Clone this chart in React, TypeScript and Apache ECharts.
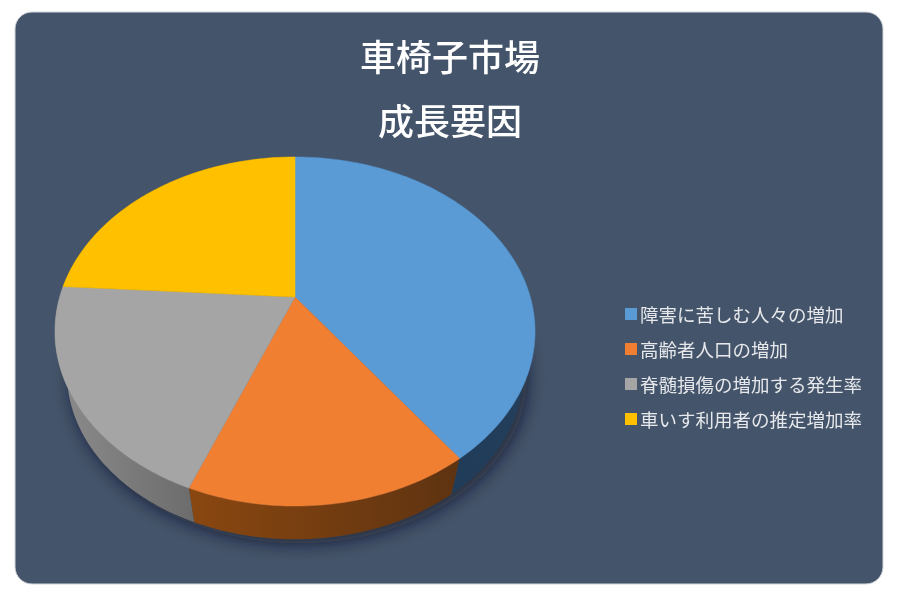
import React, { useEffect, useRef } from "react";
import * as echarts from "echarts";

const categories = ["障害に苦しむ人々の増加", "高齢者人口の増加", "脊髄損傷の増加する発生率", "車いす利用者の推定増加率"];
const shares = [40, 16, 20, 24];
const topColors = ["#5B9BD5", "#F07F31", "#A5A5A5", "#FFC000"];
const sideStops = [
  ["#1B3653", "#243F5C"],
  ["#8A4710", "#5E3311"],
  ["#8C8C8C", "#6C6C6C"],
  ["#8A6A00", "#8A6A00"],
];
const titleLines = ["車椅子市場", "成長要因"];

// Projection of the tilted disc onto the page
const APEX_X = 295;
const APEX_Y = 297;
const SCALE_X = 235.3;
const SCALE_Y = 167.7;
const TILT = 0.1977;
const RING_SCALE = 0.95;
const DISC_CY = 331;
const RING_CY = 373;

function rim(angleDeg: number): number[] {
  const a = (angleDeg * Math.PI) / 180;
  const u = Math.sin(a);
  const v = Math.cos(a);
  const w = 1 + TILT * v;
  return [APEX_X + (SCALE_X * u) / w, APEX_Y - (SCALE_Y * v) / w];
}
function lowerRim(p: number[]): number[] {
  return [APEX_X + (p[0] - APEX_X) * RING_SCALE, RING_CY + (p[1] - DISC_CY) * RING_SCALE];
}
function arc(from: number, to: number): number[][] {
  const pts: number[][] = [];
  const n = Math.max(2, Math.ceil(to - from));
  for (let i = 0; i <= n; i++) pts.push(rim(from + ((to - from) * i) / n));
  return pts;
}

const total = shares.reduce((a, b) => a + b, 0);

function sliceSeries(index: number) {
  const before = shares.slice(0, index).reduce((a, b) => a + b, 0);
  return {
    type: "custom",
    name: categories[index],
    coordinateSystem: "none",
    silent: true,
    itemStyle: { color: topColors[index] },
    data: [[shares[index]]],
    renderItem: (_params: any, api: any) => {
      const from = (before / total) * 360;
      const to = from + (api.value(0) / total) * 360;
      const edge = arc(from, to);
      const lower = edge.map(lowerRim).reverse();
      return {
        type: "group",
        children: [
          {
            type: "polygon",
            z2: 1,
            shape: { points: [...edge, ...lower] },
            style: {
              fill: new echarts.graphic.LinearGradient(0, 0, 1, 0, [
                { offset: 0, color: sideStops[index][0] },
                { offset: 1, color: sideStops[index][1] },
              ]),
            },
          },
          {
            type: "polygon",
            z2: 2,
            shape: { points: [[APEX_X, APEX_Y], ...edge] },
            style: { fill: topColors[index], stroke: topColors[index], lineWidth: 0.5 },
          },
        ],
      };
    },
  };
}

const shadowSeries = {
  type: "custom",
  name: "shadow",
  coordinateSystem: "none",
  silent: true,
  data: [[total]],
  renderItem: () => ({
    type: "polygon",
    z2: 0,
    shape: { points: arc(0, 360).map(lowerRim) },
    style: {
      fill: "#2E3C50",
      shadowBlur: 18,
      shadowColor: "rgba(10,18,32,0.7)",
      shadowOffsetX: 4,
      shadowOffsetY: 4,
    },
  }),
};

export default function App() {
  const ref = useRef<HTMLDivElement>(null);
  useEffect(() => {
    const chart = echarts.init(ref.current!, undefined, { renderer: "svg" });
    chart.setOption({
      animation: false,
      textStyle: { fontFamily: "'Noto Sans CJK JP'" },
      graphic: [
        {
          type: "rect",
          z: -1,
          silent: true,
          shape: { x: 15, y: 12, width: 868, height: 572, r: 17 },
          style: { fill: "#44546A", stroke: "#D4D6DB", lineWidth: 1 },
        },
      ],
      title: {
        text: titleLines.join("\n"),
        left: 445,
        textAlign: "center",
        top: 18,
        textStyle: {
          color: "#FFFFFF",
          fontSize: 36,
          fontWeight: 500,
          lineHeight: 64,
          fontFamily: "'Noto Sans CJK JP'",
        },
      },
      legend: {
        data: categories.map((name) => ({ name, icon: "rect" })),
        orient: "vertical",
        left: 620,
        top: 298,
        itemWidth: 12,
        itemHeight: 12,
        itemGap: 13,
        selectedMode: false,
        textStyle: {
          color: "#E6E8EB",
          fontSize: 18.5,
          lineHeight: 22,
          padding: [0, 0, 0, -2],
          fontFamily: "'Noto Sans CJK JP'",
        },
      },
      series: [shadowSeries, ...shares.map((_, i) => sliceSeries(i))],
    });
    return () => chart.dispose();
  }, []);
  return <div ref={ref} style={{ position: "fixed", left: 0, top: 0, width: 900, height: 600 }} />;
}
